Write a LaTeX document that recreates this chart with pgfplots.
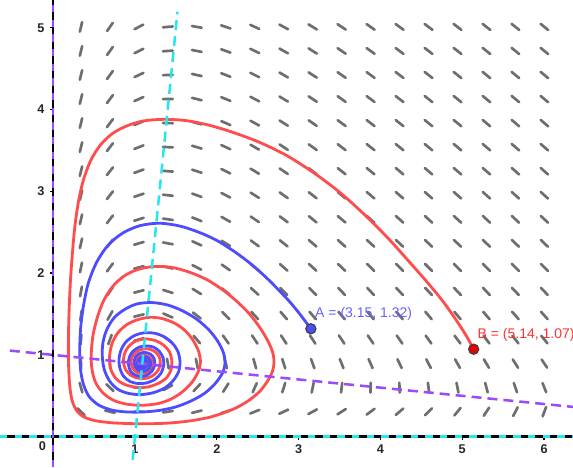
\documentclass[border=0pt]{standalone}
\usepackage{fontspec}
\setmainfont{Liberation Sans}
\usepackage{pgfplots}
\usepackage{pgfplotstable}
\pgfplotsset{compat=1.18}
\definecolor{trajred}{RGB}{255,77,77}
\definecolor{trajblue}{RGB}{77,77,255}
\definecolor{ncpurple}{RGB}{155,75,250}
\definecolor{nccyan}{RGB}{40,230,240}
\definecolor{fieldgray}{RGB}{110,110,110}
\definecolor{ptblue}{RGB}{77,77,255}
\definecolor{ptred}{RGB}{235,0,0}
\definecolor{lblblue}{RGB}{100,100,255}
\definecolor{lblred}{RGB}{255,50,50}

% slope field: grid point and direction angle (degrees)
\pgfplotstableread{
x y a
0.340 5.010 76.7
0.694 5.010 55.0
1.048 5.010 27.8
1.402 5.010 4.9
1.756 5.010 -9.9
2.110 5.010 -18.9
2.464 5.010 -24.7
2.818 5.010 -28.6
3.172 5.010 -31.4
3.526 5.010 -33.4
3.880 5.010 -34.9
4.234 5.010 -36.1
4.588 5.010 -37.0
4.942 5.010 -37.8
5.296 5.010 -38.3
5.650 5.010 -38.8
6.004 5.010 -39.2
0.340 4.716 76.6
0.694 4.716 54.4
1.048 4.716 26.5
1.402 4.716 3.5
1.756 4.716 -11.1
2.110 4.716 -20.0
2.464 4.716 -25.6
2.818 4.716 -29.4
3.172 4.716 -32.1
3.526 4.716 -34.0
3.880 4.716 -35.5
4.234 4.716 -36.6
4.588 4.716 -37.5
4.942 4.716 -38.2
5.296 4.716 -38.7
5.650 4.716 -39.2
6.004 4.716 -39.5
0.340 4.422 76.4
0.694 4.422 53.8
1.048 4.422 25.2
1.402 4.422 2.0
1.756 4.422 -12.4
2.110 4.422 -21.1
2.464 4.422 -26.6
2.818 4.422 -30.2
3.172 4.422 -32.8
3.526 4.422 -34.7
3.880 4.422 -36.1
4.234 4.422 -37.2
4.588 4.422 -38.0
4.942 4.422 -38.6
5.296 4.422 -39.2
5.650 4.422 -39.6
6.004 4.422 -39.9
0.340 4.128 76.4
0.694 4.128 53.2
1.048 4.128 24.0
1.402 4.128 0.6
1.756 4.128 -13.7
2.110 4.128 -22.2
2.464 4.128 -27.6
2.818 4.128 -31.1
3.172 4.128 -33.6
3.526 4.128 -35.4
3.880 4.128 -36.7
4.234 4.128 -37.8
4.588 4.128 -38.5
4.942 4.128 -39.1
5.296 4.128 -39.6
5.650 4.128 -40.0
6.004 4.128 -40.3
0.340 3.834 76.3
0.694 3.834 52.7
1.048 3.834 22.7
1.402 3.834 -1.0
1.756 3.834 -15.1
2.110 3.834 -23.4
2.464 3.834 -28.6
2.818 3.834 -32.1
3.172 3.834 -34.5
3.526 3.834 -36.2
3.880 3.834 -37.4
4.234 3.834 -38.4
4.588 3.834 -39.1
4.942 3.834 -39.7
5.296 3.834 -40.1
5.650 3.834 -40.4
6.004 3.834 -40.7
0.340 3.540 76.3
0.694 3.540 52.2
1.048 3.540 21.3
1.402 3.540 -2.6
1.756 3.540 -16.6
2.110 3.540 -24.7
2.464 3.540 -29.8
2.818 3.540 -33.1
3.172 3.540 -35.4
3.526 3.540 -37.0
3.880 3.540 -38.2
4.234 3.540 -39.1
4.588 3.540 -39.8
4.942 3.540 -40.3
5.296 3.540 -40.6
5.650 3.540 -40.9
6.004 3.540 -41.1
0.340 3.246 76.4
0.694 3.246 51.9
1.048 3.246 20.0
1.402 3.246 -4.3
1.756 3.246 -18.2
2.110 3.246 -26.2
2.464 3.246 -31.1
2.818 3.246 -34.2
3.172 3.246 -36.4
3.526 3.246 -37.9
3.880 3.246 -39.1
4.234 3.246 -39.9
4.588 3.246 -40.5
4.942 3.246 -40.9
5.296 3.246 -41.2
5.650 3.246 -41.5
6.004 3.246 -41.6
0.340 2.952 76.5
0.694 2.952 51.7
1.048 2.952 18.7
1.402 2.952 -6.1
1.756 2.952 -20.0
2.110 2.952 -27.8
2.464 2.952 -32.5
2.818 2.952 -35.5
3.172 2.952 -37.6
3.526 2.952 -39.0
3.880 2.952 -40.0
4.234 2.952 -40.8
4.588 2.952 -41.3
4.942 2.952 -41.7
5.296 2.952 -41.9
5.650 2.952 -42.1
6.004 2.952 -42.2
0.340 2.658 76.9
0.694 2.658 51.7
1.048 2.658 17.4
1.402 2.658 -8.2
1.756 2.658 -22.0
2.110 2.658 -29.6
2.464 2.658 -34.2
2.818 2.658 -37.0
3.172 2.658 -39.0
3.526 2.658 -40.3
3.880 2.658 -41.2
4.234 2.658 -41.8
4.588 2.658 -42.3
4.942 2.658 -42.6
5.296 2.658 -42.8
5.650 2.658 -42.9
6.004 2.658 -42.9
0.340 2.364 77.4
0.694 2.364 52.2
1.048 2.364 16.1
1.402 2.364 -10.5
1.756 2.364 -24.4
2.110 2.364 -31.9
2.464 2.364 -36.2
2.818 2.364 -38.9
3.172 2.364 -40.6
3.526 2.364 -41.8
3.880 2.364 -42.6
4.234 2.364 -43.1
4.588 2.364 -43.5
4.942 2.364 -43.6
5.296 2.364 -43.7
5.650 2.364 -43.8
6.004 2.364 -43.7
0.340 2.070 78.2
0.694 2.070 53.3
1.048 2.070 15.0
1.402 2.070 -13.4
1.756 2.070 -27.4
2.110 2.070 -34.7
2.464 2.070 -38.7
2.818 2.070 -41.2
3.172 2.070 -42.8
3.526 2.070 -43.7
3.880 2.070 -44.4
4.234 2.070 -44.8
4.588 2.070 -44.9
4.942 2.070 -45.0
5.296 2.070 -45.0
5.650 2.070 -44.9
6.004 2.070 -44.7
0.340 1.776 79.5
0.694 1.776 55.7
1.048 1.776 14.0
1.402 1.776 -17.2
1.756 1.776 -31.6
2.110 1.776 -38.5
2.464 1.776 -42.2
2.818 1.776 -44.3
3.172 1.776 -45.6
3.526 1.776 -46.3
3.880 1.776 -46.7
4.234 1.776 -46.9
4.588 1.776 -46.9
4.942 1.776 -46.8
5.296 1.776 -46.6
5.650 1.776 -46.3
6.004 1.776 -46.0
0.340 1.482 81.7
0.694 1.482 60.4
1.048 1.482 13.6
1.402 1.482 -23.3
1.756 1.482 -37.9
2.110 1.482 -44.3
2.464 1.482 -47.4
2.818 1.482 -49.0
3.172 1.482 -49.8
3.526 1.482 -50.1
3.880 1.482 -50.2
4.234 1.482 -50.0
4.588 1.482 -49.7
4.942 1.482 -49.4
5.296 1.482 -48.9
5.650 1.482 -48.4
6.004 1.482 -47.9
0.340 1.188 85.3
0.694 1.188 70.5
1.048 1.188 15.3
1.402 1.188 -36.2
1.756 1.188 -49.8
2.110 1.188 -54.4
2.464 1.188 -56.2
2.818 1.188 -56.7
3.172 1.188 -56.7
3.526 1.188 -56.3
3.880 1.188 -55.7
4.234 1.188 -55.0
4.588 1.188 -54.2
4.942 1.188 -53.4
5.296 1.188 -52.5
5.650 1.188 -51.7
6.004 1.188 -50.8
0.340 0.894 -87.9
0.694 0.894 -85.9
1.048 0.894 -88.0
1.402 0.894 -80.3
1.756 0.894 -78.4
2.110 0.894 -76.3
2.464 0.894 -74.3
2.818 0.894 -72.2
3.172 0.894 -70.2
3.526 0.894 -68.2
3.880 0.894 -66.3
4.234 0.894 -64.5
4.588 0.894 -62.6
4.942 0.894 -60.9
5.296 0.894 -59.2
5.650 0.894 -57.5
6.004 0.894 -55.9
0.340 0.600 -73.9
0.694 0.600 -43.7
1.048 0.600 -1.3
1.402 0.600 29.4
1.756 0.600 46.7
2.110 0.600 57.7
2.464 0.600 65.8
2.818 0.600 72.5
3.172 0.600 78.3
3.526 0.600 83.6
3.880 0.600 88.4
4.234 0.600 -87.0
4.588 0.600 -82.7
4.942 0.600 -78.7
5.296 0.600 -74.9
5.650 0.600 -71.3
6.004 0.600 -67.9
0.340 0.306 -43.3
0.694 0.306 -13.4
1.048 0.306 0.5
1.402 0.306 8.3
1.756 0.306 13.7
2.110 0.306 18.0
2.464 0.306 21.7
2.818 0.306 25.2
3.172 0.306 28.7
3.526 0.306 32.4
3.880 0.306 36.3
4.234 0.306 40.6
4.588 0.306 45.3
4.942 0.306 50.5
5.296 0.306 56.3
5.650 0.306 62.7
6.004 0.306 69.7
}\slopefield

\begin{document}
\begin{tikzpicture}
\begin{axis}[
  set layers,
  scale only axis, width=429.75pt, height=350.25pt,
  xmin=-0.65, xmax=6.354, ymin=-0.370, ymax=5.339,
  axis lines=middle,
  axis line style={-, black, line width=1.9pt},
  xtick={1,2,3,4,5,6}, ytick={1,2,3,4,5},
  tick align=outside, major tick length=2.5pt,
  tick style={black, line width=1pt},
  /pgf/number format/assume math mode=true,
  ticklabel style={font=\fontsize{9.5}{11}\selectfont\bfseries, text=black!85},
  xticklabel style={anchor=north, yshift=0pt},
  yticklabel style={anchor=east, xshift=-0.5pt},
  clip=true,
]
% slope field
\addplot[fieldgray, line width=2pt, line cap=round, -, mark=none,
  quiver={u={0.12*cos(\thisrow{a})}, v={0.12*sin(\thisrow{a})}}]
  table[x expr={\thisrow{x}-0.06*cos(\thisrow{a})}, y expr={\thisrow{y}-0.06*sin(\thisrow{a})}] {\slopefield};

% red trajectory from B
\addplot[trajred, line width=2.1pt, smooth, tension=0.5, mark=none] coordinates {
(5.14,1.07) (5.04,1.25) (4.91,1.45) (4.76,1.66) (4.58,1.88) (4.36,2.13) (4.10,2.42)
(3.80,2.72) (3.50,2.99) (3.18,3.23) (2.85,3.44) (2.52,3.60) (2.20,3.72) (1.90,3.81)
(1.62,3.865) (1.35,3.88) (1.10,3.86) (0.90,3.80) (0.73,3.71) (0.58,3.57) (0.46,3.38)
(0.37,3.14) (0.31,2.88) (0.265,2.57) (0.235,2.24) (0.212,1.92) (0.197,1.60) (0.188,1.30)
(0.186,1.00) (0.192,0.78) (0.207,0.58) (0.235,0.43) (0.29,0.315) (0.38,0.24) (0.52,0.195)
(0.70,0.172) (0.90,0.162) (1.10,0.158) (1.30,0.162) (1.50,0.174) (1.70,0.198) (1.90,0.235)
(2.08,0.29) (2.25,0.36) (2.40,0.45) (2.53,0.56) (2.62,0.68) (2.68,0.80) (2.70,0.92)
(2.68,1.04) (2.63,1.16) (2.53,1.33) (2.40,1.50) (2.25,1.65) (2.08,1.79) (1.88,1.92)
(1.67,2.01) (1.45,2.07) (1.22,2.08) (1.02,2.04) (0.86,1.96) (0.73,1.84) (0.62,1.67)
(0.54,1.46) (0.485,1.23) (0.465,1.00) (0.475,0.82) (0.52,0.66) (0.615,0.53) (0.75,0.44)
(0.92,0.395) (1.10,0.385) (1.28,0.405) (1.44,0.46) (1.58,0.55) (1.70,0.67) (1.775,0.80)
(1.80,0.92) (1.775,1.05) (1.71,1.18) (1.61,1.30) (1.48,1.39) (1.33,1.445) (1.18,1.46)
(1.03,1.43) (0.90,1.37) (0.79,1.27) (0.72,1.14) (0.69,0.99) (0.70,0.84) (0.76,0.72)
(0.86,0.645) (1.00,0.607) (1.15,0.607) (1.28,0.65) (1.385,0.72) (1.44,0.82) (1.45,0.93)
(1.42,1.04) (1.35,1.12) (1.25,1.175) (1.13,1.195) (1.01,1.17) (0.92,1.10) (0.87,1.01)
(0.86,0.91) (0.885,0.82) (0.95,0.75) (1.04,0.715) (1.14,0.715) (1.23,0.755) (1.29,0.825)
(1.31,0.91) (1.29,0.99) (1.23,1.05) (1.15,1.075) (1.07,1.065) (1.00,1.025) (0.96,0.96)
(0.955,0.895) (0.975,0.83) (1.03,0.785) (1.10,0.775) (1.16,0.795) (1.20,0.845) (1.21,0.91)
(1.185,0.965) (1.13,0.995) (1.07,0.99) (1.025,0.955) (1.01,0.905) (1.025,0.86) (1.07,0.832)
(1.12,0.84) (1.16,0.875) (1.165,0.92) (1.135,0.952) (1.09,0.955) (1.055,0.93) (1.045,0.89)
(1.065,0.86) (1.10,0.855) (1.13,0.875) (1.135,0.905) (1.11,0.925) (1.085,0.915) (1.08,0.895)
};

% blue trajectory from A
\addplot[trajblue, line width=2.1pt, smooth, tension=0.5, mark=none] coordinates {
(3.15,1.32) (3.03,1.48) (2.90,1.64) (2.76,1.79) (2.60,1.95) (2.42,2.11) (2.22,2.26)
(2.00,2.40) (1.78,2.50) (1.55,2.575) (1.30,2.61) (1.06,2.58) (0.85,2.49) (0.67,2.34)
(0.53,2.13) (0.43,1.88) (0.37,1.60) (0.335,1.32) (0.325,1.05) (0.335,0.82) (0.37,0.64)
(0.44,0.49) (0.56,0.385) (0.72,0.325) (0.90,0.303) (1.10,0.303) (1.30,0.322) (1.50,0.365)
(1.68,0.435) (1.85,0.53) (1.98,0.65) (2.07,0.78) (2.10,0.90) (2.08,1.03) (2.01,1.17)
(1.90,1.31) (1.75,1.44) (1.58,1.54) (1.40,1.61) (1.21,1.64) (1.03,1.625) (0.88,1.56)
(0.75,1.46) (0.66,1.32) (0.61,1.16) (0.60,0.99) (0.625,0.82) (0.69,0.68) (0.79,0.58)
(0.92,0.53) (1.07,0.515) (1.23,0.54) (1.37,0.60) (1.47,0.69) (1.535,0.80) (1.55,0.92)
(1.525,1.04) (1.46,1.14) (1.36,1.22) (1.24,1.265) (1.11,1.27) (0.99,1.235) (0.89,1.16)
(0.83,1.06) (0.805,0.95) (0.815,0.84) (0.86,0.74) (0.94,0.675) (1.04,0.65) (1.15,0.66)
(1.25,0.705) (1.32,0.78) (1.35,0.87) (1.345,0.96) (1.30,1.04) (1.23,1.095) (1.14,1.11)
(1.05,1.095) (0.975,1.045) (0.93,0.97) (0.92,0.89) (0.94,0.81) (0.99,0.76) (1.06,0.74)
(1.14,0.75) (1.205,0.80) (1.24,0.87) (1.235,0.95) (1.195,1.005) (1.13,1.03) (1.06,1.02)
(1.01,0.98) (0.99,0.92) (1.00,0.86) (1.04,0.815) (1.10,0.80) (1.155,0.82) (1.19,0.87)
(1.185,0.93) (1.15,0.97) (1.10,0.98) (1.055,0.955) (1.03,0.91) (1.04,0.865) (1.075,0.84)
(1.12,0.845) (1.15,0.875) (1.15,0.915) (1.12,0.94) (1.085,0.935) (1.065,0.905) (1.075,0.875)
(1.10,0.87) (1.115,0.89) (1.10,0.905)
};

% nullclines
\addplot[ncpurple, line width=1.9pt, dash pattern=on 7.5pt off 4.5pt, mark=none]
  coordinates {(-0.53,1.053) (6.354,0.3646)};
\addplot[nccyan, line width=1.9pt, dash pattern=on 7.5pt off 4.5pt, mark=none]
  coordinates {(0.9715,-0.285) (1.5196,5.196)};
\addplot[ncpurple, line width=1.9pt, dash pattern=on 5.5pt off 5.5pt, mark=none]
  coordinates {(0,-0.370) (0,5.339)};
\addplot[nccyan, line width=1.9pt, dash pattern=on 5.5pt off 5.5pt, mark=none]
  coordinates {(-0.65,0) (6.354,0)};

% points
\addplot[only marks, mark=*, mark size=3.8pt,
  mark options={fill=ptblue, draw=black!75, line width=0.9pt}] coordinates {(3.15,1.32)};
\addplot[only marks, mark=*, mark size=3.8pt,
  mark options={fill=ptred, draw=black!75, line width=0.9pt}] coordinates {(5.14,1.07)};

\node[anchor=west, inner sep=0pt, text=lblblue, font=\fontsize{10.5}{12}\selectfont]
  at (axis cs:3.20,1.50) {A = (3.15, 1.32)};
\node[anchor=west, inner sep=0pt, text=lblred, font=\fontsize{10.5}{12}\selectfont]
  at (axis cs:5.185,1.243) {B = (5.14, 1.07)};
\node[inner sep=0pt, font=\fontsize{9.5}{11}\selectfont\bfseries, text=black!85]
  at (axis cs:-0.133,-0.114) {0};
\end{axis}
\pgfresetboundingbox
\useasboundingbox (current axis.south west) rectangle (current axis.north east);
\end{tikzpicture}
\end{document}
